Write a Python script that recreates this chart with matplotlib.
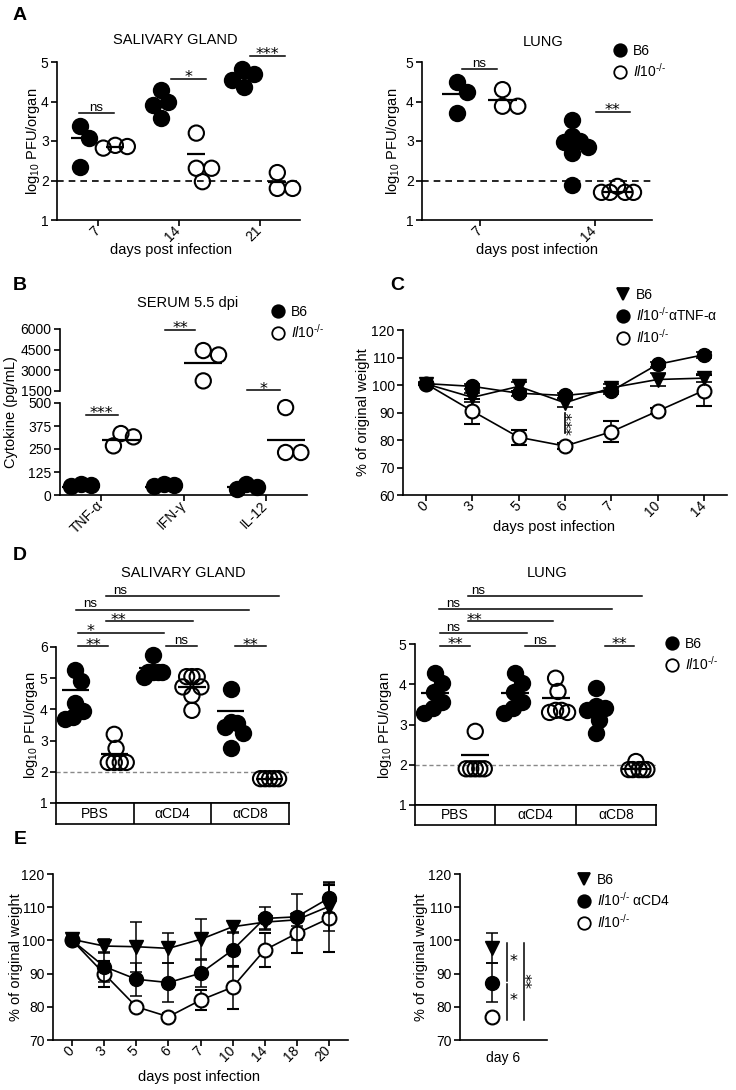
import matplotlib.pyplot as plt
import numpy as np
from matplotlib.lines import Line2D

plt.rcParams['font.family'] = ['Liberation Sans', 'DejaVu Sans']
plt.rcParams['mathtext.fontset'] = 'custom'
plt.rcParams['mathtext.rm'] = 'Liberation Sans'
plt.rcParams['mathtext.it'] = 'Liberation Sans:italic'
plt.rcParams['axes.linewidth'] = 1.2

W, H = 736, 1090
IL10 = r'$\mathit{Il10}^{\text{-/-}}$'
STAR = dict(family=['DejaVu Sans'], fontsize=11.5)

# ---------------- A: titres (log10 PFU/organ) ----------------
sg_days = ['7', '14', '21']
sg_b6 = [[3.37, 3.07, 2.35], [4.3, 3.98, 3.9, 3.58], [4.82, 4.7, 4.55, 4.37]]
sg_il10 = [[2.86, 2.82, 2.89], [3.2, 2.31, 2.31, 1.97], [2.2, 1.8, 1.8]]
sg_b6_mean = [3.07, 3.87, 4.6]
sg_il10_mean = [2.84, 2.67, 1.97]

lung_days = ['7', '14']
lung_b6 = [[4.49, 4.23, 3.7], [3.54, 3.12, 3.0, 2.98, 2.85, 2.7, 1.88]]
lung_il10 = [[4.3, 3.88, 3.88], [1.85, 1.7, 1.7, 1.7, 1.7]]
lung_b6_mean = [4.2, 3.04]
lung_il10_mean = [4.05, 1.72]

# ---------------- B: serum cytokines ----------------
cyto_names = ['TNF-α', 'IFN-γ', 'IL-12']
cyto_b6 = [[58, 48, 52], [58, 48, 52], [62, 30, 45]]
cyto_il10 = [[334, 267, 316], [4435, 4117, 2234], [475, 231, 231]]
cyto_b6_mean = [45, 45, 42]
cyto_il10_mean = [298, 3505, 301]

# ---------------- C: weight, aTNF ----------------
wt_days = ['0', '3', '5', '6', '7', '10', '14']
wt_b6 = [100.4, 95.5, 99.5, 93.5, 99.0, 102.0, 102.5]
wt_atnf = [100.5, 99.5, 97.0, 96.2, 97.8, 107.5, 111.0]
wt_il10 = [100.4, 90.5, 81.0, 77.8, 83.0, 90.5, 98.0]
wt_b6_err = [0.5, 1.5, 1.5, 1.5, 1.5, 2.5, 1.5]
wt_atnf_err = [0.5, 1.0, 1.0, 1.0, 1.0, 1.0, 1.0]
wt_il10_err = [0.5, 4.5, 2.8, 1.0, 3.8, 1.0, 5.5]

# ---------------- D: depletion titres ----------------
d_groups = ['PBS', 'αCD4', 'αCD8']
sgD_b6 = [[5.25, 4.9, 4.2, 3.95, 3.75, 3.7], [5.75, 5.2, 5.2, 5.2, 5.2, 5.05],
          [4.65, 3.6, 3.55, 3.45, 3.25, 2.75]]
sgD_il10 = [[3.2, 2.75, 2.3, 2.3, 2.3, 2.3], [5.05, 5.05, 5.05, 4.72, 4.72, 4.45, 3.97],
            [1.78, 1.78, 1.78, 1.78, 1.78]]
sgD_b6_mean = [4.62, 5.34, 3.94]
sgD_il10_mean = [2.57, 4.72, 1.78]

lgD_b6 = [[4.27, 4.02, 3.8, 3.57, 3.42, 3.28], [4.27, 4.02, 3.8, 3.57, 3.42, 3.28],
          [3.9, 3.45, 3.4, 3.35, 3.12, 2.79]]
lgD_il10 = [[2.83, 1.9, 1.9, 1.9, 1.9, 1.9], [4.15, 3.82, 3.35, 3.3, 3.3, 3.35],
            [2.08, 1.88, 1.88, 1.88, 1.88, 1.88]]
lgD_b6_mean = [3.79, 3.79, 3.4]
lgD_il10_mean = [2.25, 3.65, 1.9]

# ---------------- E: weight, aCD4 ----------------
e_days = ['0', '3', '5', '6', '7', '10', '14', '18', '20']
e_b6 = [100.3, 98.3, 98.1, 97.6, 100.3, 104.1, 105.5, 106.2, 110.2]
e_cd4 = [100.0, 92.1, 88.3, 87.3, 90.1, 97.1, 106.6, 107.1, 112.7]
e_il10 = [100.0, 89.9, 80.0, 77.0, 82.0, 85.9, 97.1, 102.1, 106.6]
e_b6_err = [1.0, 2.0, 7.5, 4.5, 6.0, 1.5, 2.0, 2.0, 7.5]
e_cd4_err = [1.0, 4.5, 5.0, 6.0, 4.0, 5.0, 3.5, 7.0, 4.5]
e_il10_err = [1.0, 4.0, 1.0, 1.0, 3.0, 6.5, 5.0, 6.0, 10.0]

fig = plt.figure(figsize=(W / 100, H / 100), dpi=100)


def add_ax(l, t, r, b):
    ax = fig.add_axes([l / W, 1 - b / H, (r - l) / W, (b - t) / H])
    for s in ['top', 'right']:
        ax.spines[s].set_visible(False)
    ax.tick_params(direction='out', length=4, width=1.2, labelsize=10, pad=2)
    return ax


def ftext(x, y, s, **kw):
    fig.text(x / W, 1 - y / H, s, **kw)


def swarm(ax, center, values, d_px, f=0.95, max_w=24):
    # beeswarm in pixel space, then squeezed to a max width like the prism plots
    tr = ax.transData
    px_x = tr.transform((1, 0))[0] - tr.transform((0, 0))[0]
    ypx = np.array([tr.transform((center, v))[1] for v in values])
    cands = sorted(np.arange(-40, 41) * 0.1 * d_px, key=lambda c: (abs(c), -c))
    xs = np.zeros(len(values))
    placed = []
    for i in np.argsort(-ypx, kind='stable'):
        for c in cands:
            if all((c - px) ** 2 + (ypx[i] - py) ** 2 >= (f * d_px) ** 2 for px, py in placed):
                break
        placed.append((c, ypx[i]))
        xs[i] = c
    spread = xs.max() - xs.min()
    if spread > max_w:
        xs = xs * max_w / spread
    return center + xs / px_x


def dots(ax, center, values, filled, d_pt=11, **kw):
    if len(values) == 0:
        return
    xs = swarm(ax, center, values, d_pt * 100 / 72, **kw)
    ax.scatter(xs, values, s=d_pt ** 2, marker='o',
               facecolors='k' if filled else 'none', edgecolors='k',
               linewidths=1.5, zorder=3, clip_on=False)


def mean_line(ax, c, m, w):
    ax.plot([c - w / 2, c + w / 2], [m, m], color='k', lw=1.6, zorder=2,
            solid_capstyle='butt')


def sig(ax, x0, x1, y, label, tx=None):
    ax.plot([x0, x1], [y, y], color='k', lw=1.1, clip_on=False)
    if label == 'ns':
        kw, off = dict(fontsize=9.5), 1.5
    else:
        kw, off = STAR, -2.5
    ax.annotate(label, ((x0 + x1) / 2 if tx is None else tx, y), xytext=(0, off),
                textcoords='offset points', ha='center', va='baseline',
                annotation_clip=False, **kw)


def rot_labels(ax, labels):
    ax.set_xticklabels(labels, rotation=45, ha='right', va='center',
                       rotation_mode='anchor')


def legend(handles, labels, left, top):
    fig.legend(handles, labels, loc='upper left',
               bbox_to_anchor=(left / W, 1 - top / H), frameon=False,
               handlelength=1.0, handletextpad=0.45, labelspacing=0.3,
               borderpad=0, borderaxespad=0, fontsize=10)


def h(marker, filled, ms=9):
    return Line2D([], [], ls='', marker=marker, ms=ms, mfc='k' if filled else 'white',
                  mec='k', mew=1.3)


# ================= A =================
axA1 = add_ax(57, 62, 300, 220)
axA1.set_xlim(-0.5, 2.5)
axA1.set_ylim(1, 5)
axA1.axhline(2, color='k', lw=1.2, ls=(0, (4, 3)), zorder=1)
for i in range(len(sg_days)):
    mean_line(axA1, i - 0.22, sg_b6_mean[i], 0.22)
    mean_line(axA1, i + 0.22, sg_il10_mean[i], 0.22)
    dots(axA1, i - 0.22, sg_b6[i], True, max_w=22)
    dots(axA1, i + 0.22, sg_il10[i], False, max_w=24)
axA1.set_xticks(range(len(sg_days)))
rot_labels(axA1, sg_days)
axA1.set_yticks([1, 2, 3, 4, 5])
sig(axA1, -0.23, 0.2, 3.7, 'ns')
sig(axA1, 0.91, 1.34, 4.58, '*')
sig(axA1, 1.88, 2.31, 5.16, '***')

axA2 = add_ax(422, 62, 652, 220)
axA2.set_xlim(-0.5, 1.5)
axA2.set_ylim(1, 5)
axA2.axhline(2, color='k', lw=1.2, ls=(0, (4, 3)), zorder=1)
for i in range(len(lung_days)):
    mean_line(axA2, i - 0.2, lung_b6_mean[i], 0.26)
    mean_line(axA2, i + 0.2, lung_il10_mean[i], 0.26)
    dots(axA2, i - 0.2, lung_b6[i], True, max_w=24)
    dots(axA2, i + 0.2, lung_il10[i], False, max_w=32)
axA2.set_xticks(range(len(lung_days)))
rot_labels(axA2, lung_days)
axA2.set_yticks([1, 2, 3, 4, 5])
sig(axA2, -0.15, 0.15, 4.83, 'ns')
sig(axA2, 1.01, 1.31, 3.74, '**')

ftext(175, 40, 'SALIVARY GLAND', ha='center', va='center', fontsize=10.5)
ftext(543, 42, 'LUNG', ha='center', va='center', fontsize=10.5)
ylab_pfu = r'log$_{10}$ PFU/organ'
ftext(33, 141, ylab_pfu, rotation=90, ha='center', va='center', fontsize=10.5)
ftext(393, 141, ylab_pfu, rotation=90, ha='center', va='center', fontsize=10.5)
ftext(171, 250, 'days post infection', ha='center', va='center', fontsize=10.5)
ftext(537, 250, 'days post infection', ha='center', va='center', fontsize=10.5)
legend([h('o', True), h('o', False)], ['B6', IL10], 613, 44)

# ================= B =================
axB1 = add_ax(60, 329, 307, 391)
axB2 = add_ax(60, 403, 307, 495)
axB1.set_ylim(1500, 6000)
axB2.set_ylim(0, 500)
for ax in (axB1, axB2):
    ax.set_xlim(-0.5, 2.5)
axB1.spines['bottom'].set_visible(False)
axB1.tick_params(axis='x', bottom=False, labelbottom=False)
axB1.set_yticks([1500, 3000, 4500, 6000])
axB2.set_yticks([0, 125, 250, 375, 500])
for i in range(len(cyto_names)):
    for vals, off, filled in ((cyto_b6[i], -0.24, True), (cyto_il10[i], 0.24, False)):
        lo = [v for v in vals if v <= 500]
        hi = [v for v in vals if v > 500]
        dots(axB2, i + off, lo, filled, max_w=20)
        dots(axB1, i + off, hi, filled, max_w=20)
    mean_line(axB2, i - 0.24, cyto_b6_mean[i], 0.46)
    m = cyto_il10_mean[i]
    mean_line(axB1 if m > 500 else axB2, i + 0.24, m, 0.46)
axB2.set_xticks(range(len(cyto_names)))
rot_labels(axB2, cyto_names)
sig(axB2, -0.19, 0.2, 435, '***')
sig(axB1, 0.78, 1.14, 5950, '**')
sig(axB1, 1.77, 2.17, 1550, '*')
ftext(188, 303, 'SERUM 5.5 dpi', ha='center', va='center', fontsize=10.5)
ftext(11, 412, 'Cytokine (pg/mL)', rotation=90, ha='center', va='center', fontsize=10.5)
legend([h('o', True), h('o', False)], ['B6', IL10], 271, 305)

# ================= C =================
axC = add_ax(403, 330, 727, 495)
axC.set_xlim(-0.5, 6.5)
axC.set_ylim(60, 120)
xc = np.arange(len(wt_days))
axC.errorbar(xc, wt_il10, yerr=wt_il10_err, color='k', lw=1.2, marker='o', ms=10,
             mfc='white', mec='k', mew=1.5, capsize=6, capthick=1.2, elinewidth=1.2, zorder=3)
axC.errorbar(xc, wt_b6, yerr=wt_b6_err, color='k', lw=1.2, marker='v', ms=10,
             mfc='k', mec='k', capsize=6, capthick=1.2, elinewidth=1.2, zorder=4)
axC.errorbar(xc, wt_atnf, yerr=wt_atnf_err, color='k', lw=1.2, marker='o', ms=10,
             mfc='k', mec='k', capsize=6, capthick=1.2, elinewidth=1.2, zorder=5)
axC.set_xticks(xc)
rot_labels(axC, wt_days)
axC.set_yticks(range(60, 121, 10))
axC.plot([3, 3], [89.8, 82.5], color='k', lw=1.2)
axC.text(3.17, 86.2, '***', rotation=90, ha='center', va='center', **STAR)
ftext(363, 412, '% of original weight', rotation=90, ha='center', va='center', fontsize=10.5)
ftext(554, 527, 'days post infection', ha='center', va='center', fontsize=10.5)
legend([h('v', True), h('o', True), h('o', False)],
       ['B6', IL10 + 'αTNF-α', IL10], 616, 288)


# ================= D =================
def panel_d(ax, box, b6, il10, b6m, il10m, ymax):
    ax.set_xlim(-0.5, 5.5)
    ax.set_ylim(1, ymax)
    ax.set_yticks(range(1, ymax + 1))
    ax.tick_params(axis='x', bottom=False, labelbottom=False)
    ax.axhline(2, color='#888888', lw=1.0, ls=(0, (3, 2)), zorder=1)
    for g in range(len(d_groups)):
        mean_line(ax, 2 * g, b6m[g], 0.7)
        mean_line(ax, 2 * g + 1, il10m[g], 0.7)
        dots(ax, 2 * g, b6[g], True, max_w=18)
        dots(ax, 2 * g + 1, il10[g], False, max_w=18)
    box.set_xlim(-0.5, 5.5)
    box.set_ylim(0, 1)
    for s in box.spines.values():
        s.set_visible(True)
        s.set_linewidth(1.2)
    box.set_xticks([])
    box.set_yticks([])
    for xb in (1.5, 3.5):
        box.axvline(xb, color='k', lw=1.2)
    for g, name in enumerate(d_groups):
        box.text(2 * g + 0.5, 0.48, name, ha='center', va='center', fontsize=10)


axD1 = add_ax(56, 647, 289, 803)
boxD1 = add_ax(56, 803, 289, 824)
panel_d(axD1, boxD1, sgD_b6, sgD_il10, sgD_b6_mean, sgD_il10_mean, 6)
sig(axD1, 0.07, 0.84, 6.03, '**')
sig(axD1, 0.07, 2.28, 6.45, '*', tx=0.38)
sig(axD1, 0.79, 3.03, 6.83, '**', tx=1.12)
sig(axD1, 0.02, 4.47, 7.2, 'ns', tx=0.38)
sig(axD1, 0.79, 5.25, 7.63, 'ns', tx=1.15)
sig(axD1, 2.33, 3.13, 6.03, 'ns')
sig(axD1, 4.11, 4.91, 6.03, '**')

axD2 = add_ax(415, 644, 656, 805)
boxD2 = add_ax(415, 805, 656, 825)
panel_d(axD2, boxD2, lgD_b6, lgD_il10, lgD_b6_mean, lgD_il10_mean, 5)
sig(axD2, 0.12, 0.87, 4.95, '**')
sig(axD2, 0.12, 2.29, 5.27, 'ns', tx=0.45)
sig(axD2, 0.82, 2.93, 5.57, '**', tx=0.99)
sig(axD2, 0.1, 4.4, 5.87, 'ns', tx=0.45)
sig(axD2, 0.82, 5.15, 6.19, 'ns', tx=1.07)
sig(axD2, 2.24, 2.98, 4.95, 'ns')
sig(axD2, 4.23, 4.95, 4.95, '**')

ftext(183, 573, 'SALIVARY GLAND', ha='center', va='center', fontsize=10.5)
ftext(547, 573, 'LUNG', ha='center', va='center', fontsize=10.5)
ftext(31, 725, ylab_pfu, rotation=90, ha='center', va='center', fontsize=10.5)
ftext(385, 725, ylab_pfu, rotation=90, ha='center', va='center', fontsize=10.5)
legend([h('o', True), h('o', False)], ['B6', IL10], 665, 637)

# ================= E =================
axE1 = add_ax(53, 874, 348, 1040)
axE1.set_xlim(-0.6, 8.6)
axE1.set_ylim(70, 120)
xe = np.arange(len(e_days))
axE1.errorbar(xe, e_il10, yerr=e_il10_err, color='k', lw=1.2, marker='o', ms=10,
              mfc='white', mec='k', mew=1.5, capsize=4.5, capthick=1.1, elinewidth=1.1, zorder=3)
axE1.errorbar(xe, e_cd4, yerr=e_cd4_err, color='k', lw=1.2, marker='o', ms=10,
              mfc='k', mec='k', capsize=4.5, capthick=1.1, elinewidth=1.1, zorder=4)
axE1.errorbar(xe, e_b6, yerr=e_b6_err, color='k', lw=1.2, marker='v', ms=10,
              mfc='k', mec='k', capsize=4.5, capthick=1.1, elinewidth=1.1, zorder=5)
axE1.set_xticks(xe)
rot_labels(axE1, e_days)
axE1.set_yticks(range(70, 121, 10))

axE2 = add_ax(460, 874, 547, 1040)
axE2.set_xlim(-1, 1)
axE2.set_ylim(70, 120)
axE2.set_yticks(range(70, 121, 10))
axE2.set_xticks([0])
axE2.set_xticklabels(['day 6'])
axE2.tick_params(axis='x', length=0, pad=8)
d6 = e_days.index('6')
axE2.errorbar([-0.26], [e_il10[d6]], color='k', marker='o', ms=10, mfc='white', mec='k', mew=1.5, zorder=3)
axE2.errorbar([-0.26], [e_cd4[d6]], yerr=[e_cd4_err[d6]], color='k', marker='o', ms=10,
              mfc='k', mec='k', capsize=4.5, capthick=1.1, elinewidth=1.1, zorder=4)
axE2.errorbar([-0.26], [e_b6[d6]], yerr=[e_b6_err[d6]], color='k', marker='v', ms=10,
              mfc='k', mec='k', capsize=4.5, capthick=1.1, elinewidth=1.1, zorder=5)
axE2.plot([0.08, 0.08], [87.8, 99.2], color='k', lw=1.1)
axE2.plot([0.08, 0.08], [76.0, 86.8], color='k', lw=1.1)
axE2.plot([0.47, 0.47], [76.0, 99.2], color='k', lw=1.1)
axE2.text(0.24, 93.6, '*', ha='center', va='center', **STAR)
axE2.text(0.24, 82.0, '*', ha='center', va='center', **STAR)
axE2.text(0.68, 88.0, '**', rotation=90, ha='center', va='center', **STAR)

ftext(16, 957, '% of original weight', rotation=90, ha='center', va='center', fontsize=10.5)
ftext(421, 957, '% of original weight', rotation=90, ha='center', va='center', fontsize=10.5)
ftext(199, 1077, 'days post infection', ha='center', va='center', fontsize=10.5)
legend([h('v', True), h('o', True), h('o', False)],
       ['B6', IL10 + ' αCD4', IL10], 577, 873)

# panel letters
for letter, (lx, ly) in zip('ABCDE', [(20, 15), (20, 285), (397, 285), (20, 556), (20, 840)]):
    ftext(lx, ly, letter, ha='center', va='center', fontsize=14, fontweight='bold')

fig.savefig('out.png', dpi=100)
